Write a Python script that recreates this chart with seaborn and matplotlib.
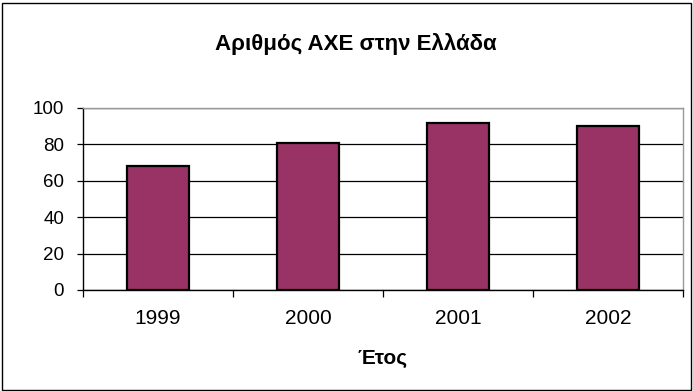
import matplotlib
matplotlib.use("Agg")
import matplotlib.pyplot as plt
from matplotlib.patches import Rectangle
from matplotlib.ticker import FixedLocator
import seaborn as sns
import pandas as pd

years = ["1999", "2000", "2001", "2002"]
counts = [68, 81, 92, 90]
y_ticks = [0, 20, 40, 60, 80, 100]

title = "Αριθμός ΑΧΕ στην Ελλάδα"
x_label = "Έτος"

sns.set_theme(style="white")
plt.rcParams["font.family"] = ["Liberation Sans", "DejaVu Sans"]
plt.rcParams["text.color"] = "black"
plt.rcParams["axes.labelcolor"] = "black"

df = pd.DataFrame({"year": years, "count": counts})

fig = plt.figure(figsize=(6.93, 3.91), dpi=100)
ax = fig.add_axes([83 / 693, 1 - 290 / 391, 600 / 693, 182 / 391])

sns.barplot(data=df, x="year", y="count", color="#993366", saturation=1,
            width=0.41, edgecolor="black", linewidth=1.6, ax=ax, zorder=3)

ax.set_xlim(-0.5, 3.5)
ax.set_ylim(0, 100)
ax.set_yticks(y_ticks)
ax.yaxis.grid(True, color="black", linewidth=0.9, zorder=0)
ax.set_axisbelow(True)

# category labels centred, tick marks between categories
ax.tick_params(axis="x", which="major", length=0, pad=14, labelsize=15,
               labelcolor="black")
ax.xaxis.set_minor_locator(FixedLocator([-0.5, 0.5, 1.5, 2.5, 3.5]))
ax.tick_params(axis="x", which="minor", length=5, width=0.9, direction="out",
               color="black", bottom=True)
ax.tick_params(axis="y", length=4.5, width=0.9, direction="out", color="black",
               left=True, labelsize=13.5, pad=9, labelcolor="black")

for side in ["left", "bottom"]:
    ax.spines[side].set_color("black")
    ax.spines[side].set_linewidth(1.0)
for side in ["top", "right"]:
    ax.spines[side].set_color("#999999")
    ax.spines[side].set_linewidth(1.0)

ax.set_ylabel("")
ax.set_xlabel("")

fig.text(383 / 693, 1 - 359 / 391, x_label, ha="center", va="center",
         fontsize=15, fontweight="bold", color="black")
fig.text(356 / 693, 1 - 44 / 391, title, ha="center", va="center",
         fontsize=16, fontweight="bold", color="black")

fig.patches.append(Rectangle((1.5 / 693, 1.5 / 391), 689 / 693, 387 / 391,
                             transform=fig.transFigure, fill=False,
                             edgecolor="black", linewidth=1.0))

fig.savefig("out.png", dpi=100, facecolor="white")
